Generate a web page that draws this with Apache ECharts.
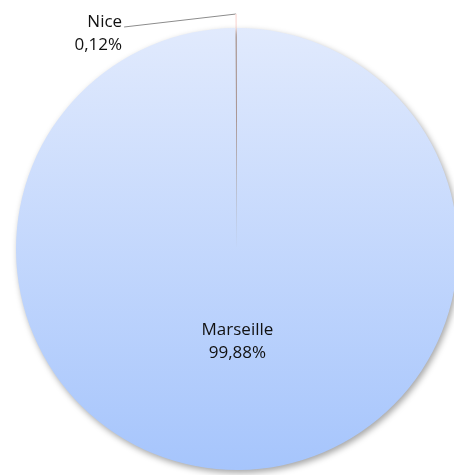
<!DOCTYPE html>
<html>
<head>
<meta charset="utf-8">
<script src="https://cdn.jsdelivr.net/npm/echarts@6/dist/echarts.min.js"></script>
<style>
    html, body { margin: 0; padding: 0; background: #fff; }
    #pie-chart { width: 454px; height: 475px; }
</style>
</head>
<body>
<div id="pie-chart"></div>
<script>
var cities = ["Nice", "Marseille"];
var shares = [0.12, 99.88];
var sliceColors = [
    ["#fbe3e0", "#f3cdc8"],
    ["#e1eafd", "#a6c5fc"],
];

function fmt(v) {
    return v.toFixed(2).replace(".", ",") + "%";
}

var myChart = echarts.init(document.getElementById("pie-chart"));
var option = {
    animation: false,
    series: [
        {
            type: "pie",
            center: [237, 249],
            radius: 221,
            startAngle: 90,
            clockwise: false,
            selectedMode: "single",
            selectedOffset: 14,
            data: cities.map(function (c, i) {
                return {
                    name: c,
                    value: shares[i],
                    selected: i === 0,
                    itemStyle: {
                        color: new echarts.graphic.LinearGradient(0, 0, 0, 1, [
                            { offset: 0, color: sliceColors[i][0] },
                            { offset: 1, color: sliceColors[i][1] },
                        ]),
                        shadowBlur: i === 0 ? 0 : 6,
                        shadowOffsetX: i === 0 ? 0 : 2,
                        shadowOffsetY: i === 0 ? 0 : 3,
                        shadowColor: i === 0 ? "rgba(0,0,0,0)" : "rgba(0,0,0,0.35)",
                    },
                    label: i === 0 ? { position: "outside" } : { position: "inner" },
                    labelLine: { show: i === 0 },
                };
            }),
            itemStyle: {
                borderWidth: 0,
            },
            emphasis: { disabled: true },
            label: {
                show: true,
                formatter: function (p) {
                    return p.name + "\n" + fmt(p.value);
                },
                fontFamily: "Open Sans",
                fontSize: 17,
                lineHeight: 23,
                color: "#111",
                distanceToLabelLine: 4,
            },
            labelLine: {
                show: true,
                length: 2,
                length2: 110,
                lineStyle: { color: "#8c8c8c", width: 1 },
            },
            labelLayout: function (params) {
                if (params.dataIndex !== 0) return { dy: -21 };
                var r = params.labelRect;
                var pts = params.labelLinePoints;
                var dy = 22;
                return {
                    dy: dy,
                    labelLinePoints: [
                        pts[0],
                        pts[0],
                        [r.x + r.width + 2, r.y + dy + 16],
                    ],
                };
            },
        },
    ],
};
myChart.setOption(option, true);
</script>
</body>
</html>
